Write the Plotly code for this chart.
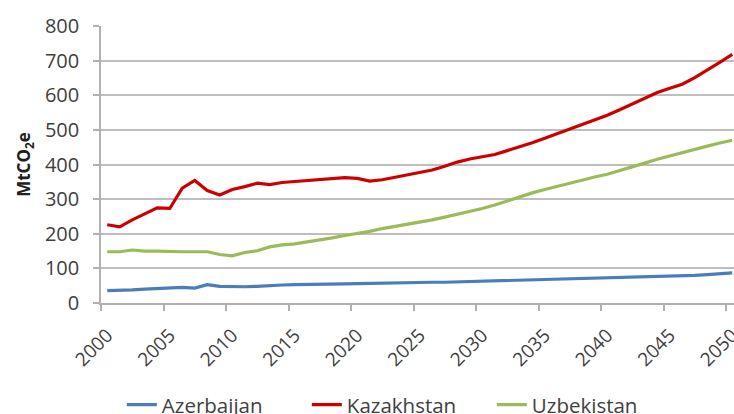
import plotly.graph_objects as go

years = list(range(2000, 2051))
tick_years = list(range(2000, 2051, 5))
tick_labels = [str(y) for y in tick_years]

azerbaijan = [36, 36, 38, 40, 41, 43, 45, 43, 53, 48,
              47, 47, 48, 51, 52, 53, 53, 54, 54, 55,
              56, 57, 57, 58, 58, 59, 60, 60, 61, 62,
              63, 64, 64, 65, 66, 67, 68, 69, 69, 70,
              71, 72, 73, 74, 75, 76, 78, 80, 82, 84, 87]

kazakhstan = [226, 220, 240, 257, 275, 273, 332, 354, 325, 312,
              328, 336, 346, 342, 348, 351, 354, 356, 358, 362,
              360, 352, 356, 363, 368, 375, 384, 395, 407, 416,
              422, 429, 440, 451, 463, 476, 489, 501, 514, 528,
              542, 558, 575, 592, 608, 620, 632, 651, 672, 695, 718]

uzbekistan = [148, 148, 153, 150, 150, 148, 148, 148, 148, 140,
              136, 146, 151, 162, 168, 171, 176, 182, 188, 195,
              200, 207, 215, 221, 226, 233, 240, 248, 256, 264,
              273, 283, 295, 307, 318, 328, 337, 347, 357, 364,
              372, 382, 393, 404, 415, 425, 433, 443, 453, 462, 470]

series = [("Azerbaijan", azerbaijan, "#4A7EBB"),
          ("Kazakhstan", kazakhstan, "#CC0000"),
          ("Uzbekistan", uzbekistan, "#9BBB59")]

font_family = "Open Sans, Liberation Sans, sans-serif"
text_col = "#404040"
axis_col = "#B0B0B0"

fig = go.Figure()
for name, vals, col in series:
    fig.add_trace(go.Scatter(x=years, y=vals, name=name, mode="lines",
                             line=dict(color=col, width=3.2)))

fig.update_layout(
    width=734, height=414,
    margin=dict(l=101, r=0, t=26, b=111, autoexpand=False),
    paper_bgcolor="white", plot_bgcolor="white",
    font=dict(family=font_family, size=19, color=text_col),
    showlegend=True,
    legend=dict(orientation="h", xref="container", yref="container",
                x=0.166, xanchor="left", y=0.022, yanchor="middle",
                font=dict(size=20.5, color=text_col),
                entrywidth=140, entrywidthmode="pixels",
                bgcolor="rgba(0,0,0,0)"),
)

fig.update_xaxes(
    range=[1999.5, 2050.14],
    tickmode="array",
    tickvals=tick_years,
    ticktext=tick_labels,
    tickangle=-45,
    ticks="", ticklabelstandoff=12,
    minor=dict(tick0=1999.5, dtick=5, ticks="outside", ticklen=6,
               tickcolor=axis_col, tickwidth=1.5, showgrid=False),
    showline=True, linecolor=axis_col, linewidth=1.5,
    showgrid=False, zeroline=False,
    automargin=False, ticklabeloverflow="allow",
    tickfont=dict(size=19, color=text_col),
)

fig.update_yaxes(
    range=[0, 800], dtick=100,
    ticks="outside", ticklen=6, tickcolor=axis_col, tickwidth=1.5,
    showline=True, linecolor=axis_col, linewidth=1.5,
    showgrid=True, gridcolor="#BEBEBE", gridwidth=1.5,
    zeroline=False, automargin=False, ticklabelstandoff=10,
    tickfont=dict(size=20, color=text_col),
    title=dict(text="<b>MtCO<sub>2</sub>e</b>", font=dict(size=17, color="#202020"), standoff=10),
)

fig.write_html("out.html", config={"displayModeBar": False},
               post_script="document.body.style.margin='0';")
